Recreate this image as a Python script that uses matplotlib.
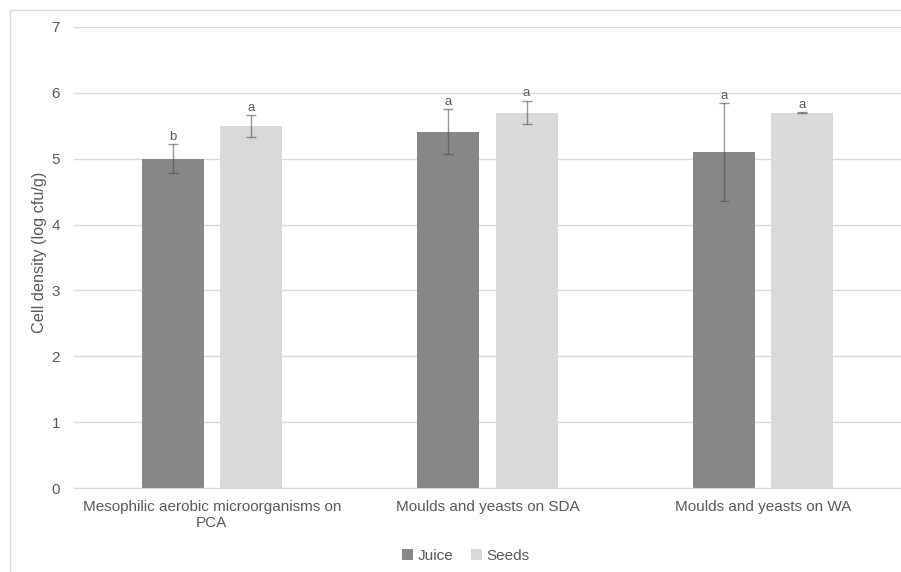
import numpy as np
import matplotlib
matplotlib.use("Agg")
import matplotlib.pyplot as plt
from matplotlib.patches import Rectangle

plt.rcParams['font.family'] = ['Liberation Sans', 'DejaVu Sans']

# cell counts per medium (log cfu/g), mean and standard deviation
categories = ["Mesophilic aerobic microorganisms on\nPCA",
              "Moulds and yeasts on SDA",
              "Moulds and yeasts on WA"]
juice_mean = [5.00, 5.41, 5.10]
juice_sd = [0.22, 0.34, 0.74]
seeds_mean = [5.50, 5.70, 5.70]
seeds_sd = [0.165, 0.18, 0.01]
juice_letters = ["b", "a", "a"]
seeds_letters = ["a", "a", "a"]

text_col = "#595959"
grid_col = "#d9d9d9"

fig = plt.figure(figsize=(9.01, 5.72), dpi=100)
ax = fig.add_axes([74 / 901, 84 / 572, 827 / 901, 461 / 572])

x = np.arange(len(categories))
w = 0.225
off = 0.1416

err_kw = dict(ecolor="#4e4e4e", elinewidth=1.0, capsize=3.5, capthick=1.0, alpha=0.6)
ax.bar(x - off, juice_mean, w, color="#878787", label="Juice", zorder=2)
ax.bar(x + off, seeds_mean, w, color="#d9d9d9", label="Seeds", zorder=2)
ax.errorbar(x - off, juice_mean, yerr=juice_sd, fmt="none", zorder=3, **err_kw)
ax.errorbar(x + off, seeds_mean, yerr=seeds_sd, fmt="none", zorder=3, **err_kw)

# significance letters above each error bar
for xi, m, s, lab in zip(x - off, juice_mean, juice_sd, juice_letters):
    ax.annotate(lab, (xi, m + s), xytext=(0, 1.0), textcoords="offset points",
                ha="center", va="bottom", fontsize=9.5, color=text_col)
for xi, m, s, lab in zip(x + off, seeds_mean, seeds_sd, seeds_letters):
    ax.annotate(lab, (xi, m + s), xytext=(0, 1.0), textcoords="offset points",
                ha="center", va="bottom", fontsize=9.5, color=text_col)

ax.set_xlim(-0.5, len(categories) - 0.5)
ax.set_ylim(0, 7)
ax.set_yticks(range(0, 8))
ax.yaxis.grid(True, color=grid_col, linewidth=1.0, zorder=0)
ax.set_axisbelow(True)
ax.set_xticks(x)
ax.set_xticklabels(categories, fontsize=11, color=text_col, linespacing=1.15)
ax.tick_params(axis="both", length=0, labelsize=11, labelcolor=text_col)
ax.tick_params(axis="x", pad=9)
ax.tick_params(axis="y", pad=10)
for side in ["top", "right", "left"]:
    ax.spines[side].set_visible(False)
ax.spines["bottom"].set_color(grid_col)
ax.set_ylabel("Cell density (log cfu/g)", fontsize=11.7, color=text_col)
ax.yaxis.set_label_coords(-0.0326, 0.512)

fig.legend(loc="center", bbox_to_anchor=(466 / 901, 1 - 556 / 572), ncol=2,
           frameon=False, fontsize=11, handlelength=0.7, handleheight=0.7,
           handletextpad=0.3, columnspacing=1.2, labelcolor=text_col)

# chart area border
fig.patches.append(Rectangle((10 / 901, -0.1), 1.0, 1.1 - 10 / 572,
                             transform=fig.transFigure, fill=False,
                             edgecolor=grid_col, linewidth=1.0))

fig.savefig("out.png", dpi=100)
